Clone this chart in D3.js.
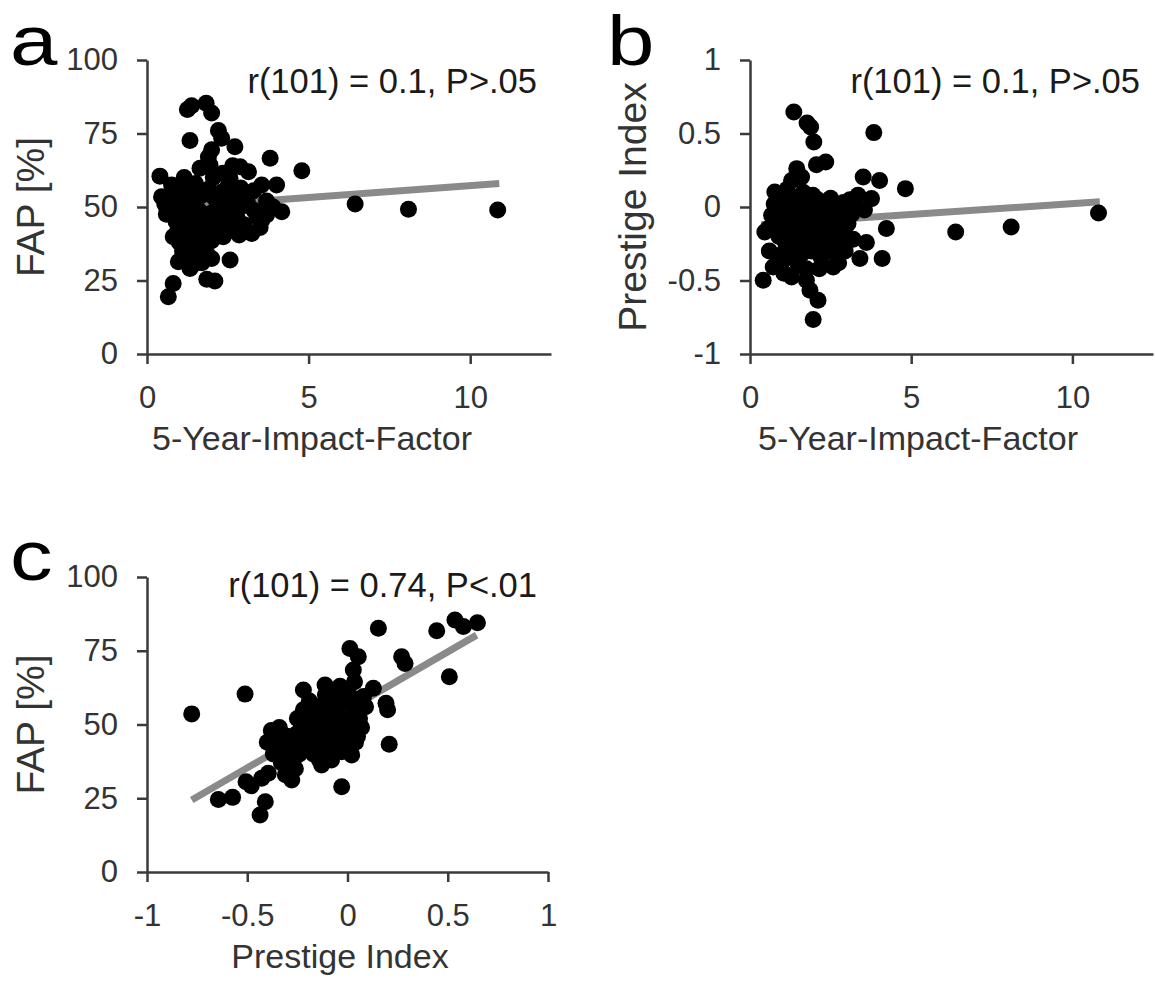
<!DOCTYPE html>
<html>
<head>
<meta charset="utf-8">
<script src="https://d3js.org/d3.v7.min.js"></script>
<style>
  body { margin: 0; background: #fff; }
  .tick text { font-family: "Liberation Sans", Arial, sans-serif; font-size: 31px; fill: #333; }
  .domain, .tick line { stroke: #3a3a3a; stroke-width: 2.5; }
  .axis-label { font-family: "Liberation Sans", Arial, sans-serif; font-size: 34px; fill: #333; }
  .stat { font-family: "Liberation Sans", Arial, sans-serif; font-size: 34.5px; fill: #1a1a1a; }
  .letter { font-family: "Liberation Sans", Arial, sans-serif; font-size: 71px; fill: #000; }
</style>
</head>
<body>
<svg id="fig" width="1155" height="996"></svg>
<script>
// panel a: 5-year impact factor vs FAP [%]
const aImpact = [0.40,0.76,0.45,0.55,1.25,1.38,1.83,2.00,1.33,2.21,2.31,2.72,2.00,1.90,1.64,1.95,3.81,4.79,2.88,3.14,
  2.57,3.55,4.01,6.44,8.09,10.85,4.17,3.70,3.40,3.24,2.36,2.57,1.85,2.10,0.81,0.66,1.33,0.97,0.81,1.54,
  1.85,0.90,1.10,1.30,1.50,1.70,1.90,2.10,2.30,2.50,2.70,2.90,3.10,3.30,0.80,1.00,1.20,1.40,1.60,1.80,
  2.00,2.20,2.40,2.60,2.80,3.00,3.50,0.90,1.10,1.30,1.50,1.70,1.90,2.10,2.30,2.60,1.00,1.20,1.40,1.60,
  1.80,2.00,1.10,1.30,1.60,1.45,1.70,2.00,3.30,3.70,3.90,2.50,1.50,2.90,1.15,2.35,2.65,0.60,3.55,2.85,
  1.05,2.05,0.95];
const aFap = [60.5,57.5,53.5,51,83.2,84.4,85.3,82,72.6,76,73.4,70.5,69.5,67,63.2,64.3,66.6,62.3,63.7,62,
  59.7,57.5,57.5,51,49.2,49,48.4,47.3,46.7,41,39.9,32,25.4,24.8,24,19.5,29.1,31.4,39.9,33.1,
  34.2,55,53,55.5,52,54,56,53,55,52,54,50,52,49,50,48,50,47,49,46,
  48,50,47,49,46,44,43,45,43,45,42,44,41,43,45,42,38,40,37,39,
  36.5,38.5,35,33,35,30.5,31,32.5,55.5,52,50,57,58,56.5,60,61.5,64,47.5,45.5,40.5,
  57,60,42];
const aFit = [[0.35, 49.5], [10.9, 58]];

// panel b: 5-year impact factor vs prestige index
const bImpact = [1.36,1.77,1.88,1.98,3.84,2.06,2.35,1.45,1.29,1.60,0.77,3.51,4.02,3.77,4.82,3.35,4.23,6.38,8.10,10.81,
  3.61,3.41,4.10,0.41,1.29,1.75,1.86,2.11,1.96,0.46,0.67,0.72,1.03,2.58,1.99,3.04,2.48,3.30,3.55,0.90,
  1.10,1.30,1.50,1.70,1.90,2.10,2.30,2.50,2.70,2.90,0.80,1.00,1.20,1.40,1.60,1.80,2.00,2.20,2.40,2.60,
  2.80,3.00,0.90,1.10,1.30,1.50,1.70,1.90,2.10,2.30,2.50,2.70,3.20,1.00,1.20,1.40,1.60,2.20,2.45,2.75,
  0.85,1.50,0.60,0.55,1.15,1.95,2.55,3.15,1.05,1.75,2.05,0.75,2.85,1.35,2.65,1.85,1.25,2.95,0.95,2.15,
  3.10,1.65,2.35];
const bPrestige = [0.646,0.571,0.544,0.442,0.506,0.288,0.306,0.261,0.18,0.204,0.102,0.204,0.18,0.057,0.125,0.08,-0.147,-0.17,-0.136,-0.041,
  -0.242,-0.351,-0.351,-0.499,-0.476,-0.499,-0.567,-0.635,-0.766,-0.17,-0.056,-0.408,-0.363,-0.408,-0.272,-0.113,-0.068,0,-0.02,0.05,
  0,0.06,-0.02,0.04,-0.05,0.05,0,0.06,-0.02,0.03,-0.1,-0.06,-0.12,-0.08,-0.14,-0.1,-0.15,-0.09,-0.13,-0.1,
  -0.16,-0.2,-0.2,-0.24,-0.18,-0.26,-0.22,-0.3,-0.2,-0.25,-0.18,-0.28,-0.22,-0.32,-0.3,-0.35,-0.32,-0.34,-0.3,-0.38,
  -0.38,-0.4,-0.3,-0.15,0.12,0.08,0.02,-0.05,-0.45,-0.42,0,0.02,-0.08,-0.25,-0.23,-0.19,-0.03,-0.3,-0.14,-0.42,
  0.05,0.1,-0.05];
const bFit = [[0.35, -0.12], [10.85, 0.035]];

// panel c: prestige index vs FAP [%]
const cPrestige = [-0.777,-0.511,-0.644,-0.573,-0.506,-0.48,-0.436,-0.41,-0.428,-0.395,-0.278,-0.362,-0.22,-0.112,-0.037,0.012,0.054,0.029,0.154,0.27,
  0.287,0.445,0.536,0.578,0.648,0.508,0.208,0.192,0.2,0.129,-0.029,-0.129,0.021,-0.029,0.054,0.09,0.035,0.05,-0.35,-0.32,
  -0.3,-0.28,-0.25,-0.22,-0.2,-0.18,-0.15,-0.12,-0.1,-0.08,-0.05,-0.03,0,0.02,0.04,-0.37,-0.33,-0.3,-0.27,-0.24,
  -0.2,-0.17,-0.14,-0.12,-0.09,-0.06,-0.03,-0.25,-0.22,-0.19,-0.15,-0.12,-0.09,-0.06,-0.18,-0.14,0.07,-0.38,-0.34,-0.31,
  -0.26,-0.08,0,0.06,-0.02,-0.23,-0.16,-0.1,-0.04,-0.2,-0.28,-0.13,-0.07,0.03,-0.4,-0.36,-0.11,-0.05,0.01,0.08,
  -0.21,-0.17,0.04];
const cFap = [53.6,60.3,24.6,25.3,30.6,29.2,19.3,23.8,31.8,33.5,31.2,47.6,61.7,63.4,63,75.8,73,68.5,82.6,73,
  70.7,81.8,85.4,83.2,84.5,66.2,43.3,57.2,55,62.3,28.9,36.3,39.7,40.8,56,56,64.5,46,44,41,
  46,43,47,44,49,46,51,48,53,50,55,52,47,50,44,40,37,35,38,40,
  42,40,43,41,45,43,46,52,55,58,56,54,58,57,53,38,49,48,49,33,
  35,38,42,52,58,49,47,47,49,45,40,50,53,54,44,45,60,61,60,59.5,
  51,55,57];
const cFit = [[-0.777, 24.4], [0.644, 80.3]];

const svg = d3.select('#fig');

function panel(o) {
  const x = d3.scaleLinear().domain(o.xDomain).range([o.left, o.right]);
  const y = d3.scaleLinear().domain(o.yDomain).range([o.bottom, o.top]);
  const g = svg.append('g');

  const fmt = d => String(d);
  g.append('g')
    .attr('transform', `translate(0,${o.bottom})`)
    .call(d3.axisBottom(x).tickValues(o.xTicks).tickFormat(fmt)
      .tickSize(10).tickSizeOuter(0).tickPadding(22));
  g.append('g')
    .attr('transform', `translate(${o.left},0)`)
    .call(d3.axisLeft(y).tickValues(o.yTicks).tickFormat(fmt)
      .tickSize(10).tickSizeOuter(0).tickPadding(19));

  // regression line
  g.append('line')
    .attr('x1', x(o.fit[0][0])).attr('y1', y(o.fit[0][1]))
    .attr('x2', x(o.fit[1][0])).attr('y2', y(o.fit[1][1]))
    .attr('stroke', '#8a8a8a').attr('stroke-width', 7);

  g.selectAll('circle').data(d3.range(o.xs.length))
    .enter().append('circle')
    .attr('cx', i => x(o.xs[i]))
    .attr('cy', i => y(o.ys[i]))
    .attr('r', 8.5)
    .attr('fill', '#000');

  g.append('text').attr('class', 'stat')
    .attr('x', o.left + 390).attr('y', o.statY)
    .attr('text-anchor', 'end').text(o.stat);

  g.append('text').attr('class', 'axis-label')
    .attr('x', o.xLabelX).attr('y', o.bottom + 96)
    .attr('text-anchor', 'middle').text(o.xLabel);

  g.append('text').attr('class', 'axis-label')
    .attr('transform', `translate(${o.yLabelX},${(o.top + o.bottom) / 2}) rotate(-90)`)
    .attr('text-anchor', 'middle').attr('dy', '0.35em')
    .style('font-size', '39px')
    .text(o.yLabel);

  g.append('text').attr('class', 'letter')
    .attr('transform', `translate(${o.letterX},${o.letterY}) scale(1.2,1)`)
    .text(o.letter);
}

panel({
  left: 147, right: 551, top: 60, bottom: 354,
  xDomain: [0, 12.5], yDomain: [0, 100],
  xTicks: [0, 5, 10], yTicks: [0, 25, 50, 75, 100],
  xs: aImpact, ys: aFap, fit: aFit,
  stat: 'r(101) = 0.1, P>.05', statY: 93,
  xLabel: '5-Year-Impact-Factor', xLabelX: 312,
  yLabel: 'FAP [%]', yLabelX: 30,
  letter: 'a', letterX: 10, letterY: 65
});

panel({
  left: 750, right: 1153, top: 60, bottom: 354,
  xDomain: [0, 12.5], yDomain: [-1, 1],
  xTicks: [0, 5, 10], yTicks: [-1, -0.5, 0, 0.5, 1],
  xs: bImpact, ys: bPrestige, fit: bFit,
  stat: 'r(101) = 0.1, P>.05', statY: 93,
  xLabel: '5-Year-Impact-Factor', xLabelX: 918,
  yLabel: 'Prestige Index', yLabelX: 632,
  letter: 'b', letterX: 607, letterY: 65
});

panel({
  left: 147, right: 548, top: 577, bottom: 872,
  xDomain: [-1, 1], yDomain: [0, 100],
  xTicks: [-1, -0.5, 0, 0.5, 1], yTicks: [0, 25, 50, 75, 100],
  xs: cPrestige, ys: cFap, fit: cFit,
  stat: 'r(101) = 0.74, P<.01', statY: 597,
  xLabel: 'Prestige Index', xLabelX: 340,
  yLabel: 'FAP [%]', yLabelX: 30,
  letter: 'c', letterX: 10, letterY: 580
});
</script>
</body>
</html>
